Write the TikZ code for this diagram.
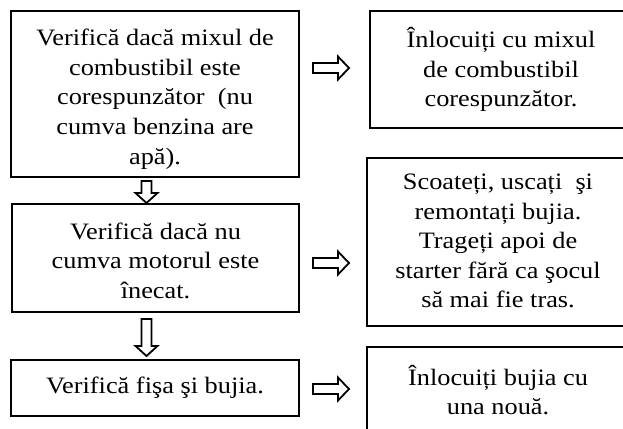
\documentclass[tikz,border=0pt]{standalone}
\usepackage{fontspec}
\setmainfont[FakeStretch=1.12]{Liberation Serif}
\usetikzlibrary{calc}
\newcommand{\tp}[1]{\rule{0pt}{#1pt}}
\newcommand{\bt}[1]{\rule[-#1pt]{0pt}{#1pt}}
\tikzset{
  stepbox/.style={draw=black,line width=1.9pt,rectangle,inner sep=0pt,align=center,
    font=\fontsize{23.5}{29.6}\selectfont},
  harrow/.style={draw=black,line width=1.8pt,fill=white,line join=miter,to path={
    let \p1=(\tikztostart),\p2=(\tikztotarget) in
    (\x1,\y1+5) -- (\x2-11,\y1+5) -- (\x2-11,\y1+11.5) -- (\x2,\y1) -- (\x2-11,\y1-11.5) -- (\x2-11,\y1-5) -- (\x1,\y1-5) -- cycle}},
  varrow/.style={draw=black,line width=1.8pt,fill=white,line join=miter,to path={
    let \p1=(\tikztostart),\p2=(\tikztotarget) in
    (\x1-5,\y1) -- (\x1-5,\y2+10) -- (\x1-11,\y2+10) -- (\x1,\y2) -- (\x1+11,\y2+10) -- (\x1+5,\y2+10) -- (\x1+5,\y1) -- cycle}}
}
\begin{document}
\begin{tikzpicture}[x=1pt,y=-1pt]
\useasboundingbox (0,0) rectangle (623,428);
\clip (0,0) rectangle (623,428);
\fill[white] (0,0) rectangle (623,428);
\node[stepbox,minimum width=288pt,minimum height=166pt] (a) at (155,94)
  {\tp{27}Verifică dacă mixul de\\combustibil este\\corespunzător\ \ (nu\\cumva benzina are\\apă).};
\node[stepbox,minimum width=287pt,minimum height=108pt] (b) at (155.5,258)
  {\tp{22}Verifică dacă nu\\cumva motorul este\\înecat.};
\node[stepbox,minimum width=288pt,minimum height=56pt] (c) at (155,388)
  {Verifică fişa şi bujia.};
\node[stepbox,minimum width=262pt,minimum height=117pt] (x) at (501,69.5)
  {\tp{20}Înlocuiți cu mixul\\de combustibil\\corespunzător.};
\node[stepbox,minimum width=262pt,minimum height=168pt] (y) at (498,242)
  {Scoateți, uscați\ \ şi\\remontați bujia.\\Trageți apoi de\\starter fără ca şocul\\să mai fie tras.\bt{2}};
\node[stepbox,minimum width=262pt,minimum height=90pt] (z) at (498,392)
  {Înlocuiți bujia cu\\una nouă.\bt{4}};
\coordinate (d1s) at (146.5,181); \coordinate (d1t) at (146.5,203);
\coordinate (d2s) at (146.5,319); \coordinate (d2t) at (146.5,356);
\coordinate (r1s) at (313,68); \coordinate (r1t) at (349,68);
\coordinate (r2s) at (313,263); \coordinate (r2t) at (349,263);
\coordinate (r3s) at (313,389); \coordinate (r3t) at (349,389);
\draw[varrow] (d1s) to (d1t);
\draw[varrow] (d2s) to (d2t);
\draw[harrow] (r1s) to (r1t);
\draw[harrow] (r2s) to (r2t);
\draw[harrow] (r3s) to (r3t);
\end{tikzpicture}
\end{document}
